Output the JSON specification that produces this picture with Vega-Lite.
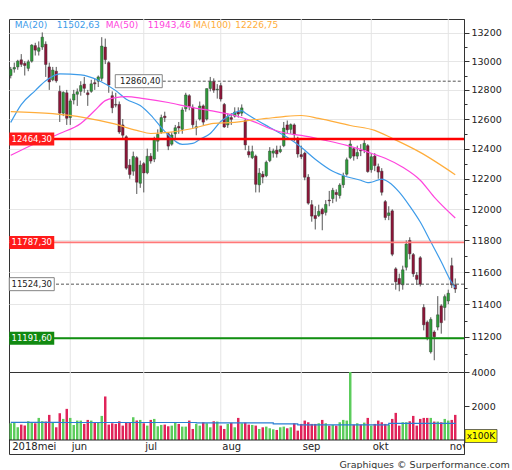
{
  "$schema": "https://vega.github.io/schema/vega-lite/v6.json",
  "padding": {"left": 7, "top": 18, "right": 4, "bottom": 0},
  "background": "white",
  "bounds": "flush",
  "spacing": 0,
  "config": {
    "font": "DejaVu Sans",
    "view": {"stroke": "#333", "strokeWidth": 1},
    "axis": {"labelFont": "DejaVu Sans", "labelFontSize": 9.5, "labelColor": "#222", "domainColor": "#333", "tickColor": "#333", "labelOverlap": false}
  },
  "title": {"text": "Graphiques © Surperformance.com", "orient": "bottom", "anchor": "end", "fontSize": 9.5, "fontWeight": "normal", "font": "DejaVu Sans", "color": "#333", "offset": 5, "dx": 8},
  "datasets": {
    "px": [
      {"d":"2018-05-09","o":12900,"h":12960,"l":12880,"c":12943,"v":985},
      {"d":"2018-05-10","o":12945,"h":12990,"l":12920,"c":12956,"v":1044},
      {"d":"2018-05-11","o":12960,"h":13010,"l":12940,"c":13001,"v":749},
      {"d":"2018-05-14","o":13010,"h":13050,"l":12960,"c":12978,"v":906},
      {"d":"2018-05-15","o":12985,"h":13000,"l":12900,"c":12970,"v":847},
      {"d":"2018-05-16","o":12950,"h":13010,"l":12930,"c":12996,"v":1103},
      {"d":"2018-05-17","o":13000,"h":13120,"l":12990,"c":13114,"v":1044},
      {"d":"2018-05-18","o":13110,"h":13130,"l":13040,"c":13078,"v":985},
      {"d":"2018-05-21","o":13070,"h":13140,"l":13040,"c":13095,"v":1300},
      {"d":"2018-05-22","o":13100,"h":13204,"l":13080,"c":13170,"v":1103},
      {"d":"2018-05-23","o":13120,"h":13140,"l":12890,"c":12977,"v":1084},
      {"d":"2018-05-24","o":12960,"h":12990,"l":12800,"c":12855,"v":1478},
      {"d":"2018-05-25","o":12870,"h":12960,"l":12860,"c":12938,"v":1044},
      {"d":"2018-05-28","o":12930,"h":12960,"l":12850,"c":12863,"v":749},
      {"d":"2018-05-29","o":12790,"h":12830,"l":12580,"c":12640,"v":1576},
      {"d":"2018-05-30","o":12640,"h":12790,"l":12620,"c":12783,"v":1241},
      {"d":"2018-05-31","o":12780,"h":12800,"l":12560,"c":12605,"v":1832},
      {"d":"2018-06-01","o":12610,"h":12740,"l":12560,"c":12724,"v":1300},
      {"d":"2018-06-04","o":12730,"h":12800,"l":12700,"c":12771,"v":887},
      {"d":"2018-06-05","o":12770,"h":12810,"l":12690,"c":12787,"v":1143},
      {"d":"2018-06-06","o":12790,"h":12860,"l":12760,"c":12830,"v":1143},
      {"d":"2018-06-07","o":12840,"h":12890,"l":12780,"c":12811,"v":946},
      {"d":"2018-06-08","o":12780,"h":12800,"l":12690,"c":12767,"v":1182},
      {"d":"2018-06-11","o":12790,"h":12870,"l":12780,"c":12842,"v":1143},
      {"d":"2018-06-12","o":12850,"h":12880,"l":12800,"c":12842,"v":1044},
      {"d":"2018-06-13","o":12860,"h":12900,"l":12820,"c":12890,"v":1044},
      {"d":"2018-06-14","o":12880,"h":13170,"l":12860,"c":13107,"v":1418},
      {"d":"2018-06-15","o":13100,"h":13160,"l":12980,"c":13011,"v":2561},
      {"d":"2018-06-18","o":12990,"h":13000,"l":12780,"c":12834,"v":906},
      {"d":"2018-06-19","o":12760,"h":12790,"l":12640,"c":12677,"v":985},
      {"d":"2018-06-20","o":12700,"h":12780,"l":12680,"c":12695,"v":946},
      {"d":"2018-06-21","o":12700,"h":12720,"l":12500,"c":12512,"v":1103},
      {"d":"2018-06-22","o":12560,"h":12600,"l":12470,"c":12490,"v":847},
      {"d":"2018-06-25","o":12480,"h":12490,"l":12260,"c":12270,"v":1044},
      {"d":"2018-06-26","o":12290,"h":12330,"l":12200,"c":12228,"v":1044},
      {"d":"2018-06-27","o":12250,"h":12380,"l":12220,"c":12348,"v":1340},
      {"d":"2018-06-28","o":12340,"h":12350,"l":12100,"c":12177,"v":1143},
      {"d":"2018-06-29","o":12170,"h":12320,"l":12140,"c":12290,"v":1182},
      {"d":"2018-07-02","o":12300,"h":12310,"l":12110,"c":12238,"v":985},
      {"d":"2018-07-03","o":12240,"h":12400,"l":12230,"c":12349,"v":847},
      {"d":"2018-07-04","o":12350,"h":12370,"l":12300,"c":12317,"v":1182},
      {"d":"2018-07-05","o":12330,"h":12480,"l":12310,"c":12464,"v":1241},
      {"d":"2018-07-06","o":12450,"h":12530,"l":12380,"c":12496,"v":808},
      {"d":"2018-07-09","o":12510,"h":12630,"l":12500,"c":12610,"v":887},
      {"d":"2018-07-10","o":12620,"h":12650,"l":12580,"c":12609,"v":906},
      {"d":"2018-07-11","o":12500,"h":12510,"l":12390,"c":12417,"v":808},
      {"d":"2018-07-12","o":12430,"h":12510,"l":12420,"c":12492,"v":847},
      {"d":"2018-07-13","o":12500,"h":12560,"l":12470,"c":12541,"v":1044},
      {"d":"2018-07-16","o":12550,"h":12580,"l":12500,"c":12539,"v":946},
      {"d":"2018-07-17","o":12530,"h":12680,"l":12500,"c":12662,"v":788},
      {"d":"2018-07-18","o":12670,"h":12780,"l":12650,"c":12765,"v":788},
      {"d":"2018-07-19","o":12760,"h":12770,"l":12660,"c":12686,"v":1143},
      {"d":"2018-07-20","o":12680,"h":12700,"l":12540,"c":12561,"v":650},
      {"d":"2018-07-23","o":12540,"h":12590,"l":12490,"c":12548,"v":946},
      {"d":"2018-07-24","o":12600,"h":12720,"l":12590,"c":12689,"v":847},
      {"d":"2018-07-25","o":12690,"h":12700,"l":12560,"c":12579,"v":1044},
      {"d":"2018-07-26","o":12600,"h":12810,"l":12590,"c":12809,"v":985},
      {"d":"2018-07-27","o":12810,"h":12890,"l":12790,"c":12860,"v":749},
      {"d":"2018-07-30","o":12860,"h":12880,"l":12780,"c":12798,"v":1103},
      {"d":"2018-07-31","o":12800,"h":12840,"l":12740,"c":12805,"v":1084},
      {"d":"2018-08-01","o":12830,"h":12850,"l":12720,"c":12737,"v":847},
      {"d":"2018-08-02","o":12700,"h":12710,"l":12540,"c":12546,"v":650},
      {"d":"2018-08-03","o":12560,"h":12640,"l":12540,"c":12616,"v":946},
      {"d":"2018-08-06","o":12610,"h":12640,"l":12560,"c":12598,"v":1005},
      {"d":"2018-08-07","o":12620,"h":12680,"l":12610,"c":12648,"v":749},
      {"d":"2018-08-08","o":12650,"h":12680,"l":12610,"c":12634,"v":1300},
      {"d":"2018-08-09","o":12640,"h":12700,"l":12620,"c":12676,"v":985},
      {"d":"2018-08-10","o":12590,"h":12600,"l":12390,"c":12425,"v":1024},
      {"d":"2018-08-13","o":12380,"h":12420,"l":12340,"c":12358,"v":906},
      {"d":"2018-08-14","o":12340,"h":12420,"l":12330,"c":12380,"v":887},
      {"d":"2018-08-15","o":12350,"h":12360,"l":12110,"c":12163,"v":847},
      {"d":"2018-08-16","o":12160,"h":12270,"l":12110,"c":12237,"v":650},
      {"d":"2018-08-17","o":12230,"h":12250,"l":12170,"c":12211,"v":749},
      {"d":"2018-08-20","o":12220,"h":12320,"l":12210,"c":12309,"v":788},
      {"d":"2018-08-21","o":12320,"h":12410,"l":12310,"c":12384,"v":690},
      {"d":"2018-08-22","o":12370,"h":12400,"l":12340,"c":12385,"v":630},
      {"d":"2018-08-23","o":12390,"h":12420,"l":12340,"c":12365,"v":591},
      {"d":"2018-08-24","o":12380,"h":12420,"l":12370,"c":12394,"v":749},
      {"d":"2018-08-27","o":12420,"h":12580,"l":12410,"c":12539,"v":788},
      {"d":"2018-08-28","o":12560,"h":12590,"l":12500,"c":12527,"v":690},
      {"d":"2018-08-29","o":12530,"h":12570,"l":12500,"c":12562,"v":749},
      {"d":"2018-08-30","o":12560,"h":12570,"l":12450,"c":12494,"v":985},
      {"d":"2018-08-31","o":12470,"h":12480,"l":12340,"c":12364,"v":552},
      {"d":"2018-09-03","o":12360,"h":12420,"l":12330,"c":12346,"v":946},
      {"d":"2018-09-04","o":12370,"h":12380,"l":12190,"c":12210,"v":1143},
      {"d":"2018-09-05","o":12210,"h":12230,"l":12030,"c":12040,"v":1044},
      {"d":"2018-09-06","o":12030,"h":12060,"l":11920,"c":11956,"v":946},
      {"d":"2018-09-07","o":11960,"h":12020,"l":11870,"c":11940,"v":946},
      {"d":"2018-09-10","o":11960,"h":12030,"l":11950,"c":11987,"v":985},
      {"d":"2018-09-11","o":12000,"h":12010,"l":11865,"c":11970,"v":1182},
      {"d":"2018-09-12","o":11980,"h":12060,"l":11960,"c":12032,"v":985},
      {"d":"2018-09-13","o":12060,"h":12120,"l":12020,"c":12055,"v":847},
      {"d":"2018-09-14","o":12070,"h":12140,"l":12040,"c":12124,"v":887},
      {"d":"2018-09-17","o":12110,"h":12130,"l":12050,"c":12096,"v":847},
      {"d":"2018-09-18","o":12090,"h":12170,"l":12070,"c":12158,"v":1044},
      {"d":"2018-09-19","o":12160,"h":12240,"l":12140,"c":12219,"v":1182},
      {"d":"2018-09-20","o":12230,"h":12340,"l":12220,"c":12326,"v":1143},
      {"d":"2018-09-21","o":12340,"h":12470,"l":12330,"c":12431,"v":4000},
      {"d":"2018-09-24","o":12400,"h":12410,"l":12320,"c":12350,"v":906},
      {"d":"2018-09-25","o":12350,"h":12420,"l":12330,"c":12374,"v":985},
      {"d":"2018-09-26","o":12390,"h":12430,"l":12350,"c":12385,"v":906},
      {"d":"2018-09-27","o":12390,"h":12470,"l":12370,"c":12436,"v":1024},
      {"d":"2018-09-28","o":12420,"h":12430,"l":12240,"c":12247,"v":1300},
      {"d":"2018-10-01","o":12260,"h":12370,"l":12240,"c":12346,"v":847},
      {"d":"2018-10-02","o":12350,"h":12370,"l":12250,"c":12287,"v":946},
      {"d":"2018-10-04","o":12280,"h":12300,"l":12200,"c":12244,"v":1143},
      {"d":"2018-10-05","o":12250,"h":12270,"l":12090,"c":12111,"v":1044},
      {"d":"2018-10-08","o":12050,"h":12060,"l":11930,"c":11947,"v":946},
      {"d":"2018-10-09","o":11960,"h":12020,"l":11930,"c":11977,"v":906},
      {"d":"2018-10-10","o":11990,"h":12000,"l":11700,"c":11712,"v":1241},
      {"d":"2018-10-11","o":11620,"h":11630,"l":11490,"c":11539,"v":1596},
      {"d":"2018-10-12","o":11560,"h":11590,"l":11480,"c":11524,"v":847},
      {"d":"2018-10-15","o":11520,"h":11640,"l":11490,"c":11614,"v":1044},
      {"d":"2018-10-16","o":11630,"h":11800,"l":11610,"c":11777,"v":1044},
      {"d":"2018-10-17","o":11800,"h":11820,"l":11680,"c":11715,"v":1103},
      {"d":"2018-10-18","o":11710,"h":11720,"l":11570,"c":11589,"v":1418},
      {"d":"2018-10-19","o":11580,"h":11600,"l":11520,"c":11554,"v":847},
      {"d":"2018-10-22","o":11690,"h":11700,"l":11510,"c":11524,"v":1241},
      {"d":"2018-10-23","o":11380,"h":11400,"l":11240,"c":11274,"v":1300},
      {"d":"2018-10-24","o":11290,"h":11300,"l":11180,"c":11191,"v":1300},
      {"d":"2018-10-25","o":11110,"h":11320,"l":11100,"c":11307,"v":1300},
      {"d":"2018-10-26","o":11230,"h":11240,"l":11060,"c":11201,"v":1084},
      {"d":"2018-10-29","o":11260,"h":11450,"l":11240,"c":11335,"v":1084},
      {"d":"2018-10-30","o":11390,"h":11400,"l":11220,"c":11287,"v":1044},
      {"d":"2018-10-31","o":11380,"h":11460,"l":11300,"c":11447,"v":1241},
      {"d":"2018-11-01","o":11420,"h":11490,"l":11400,"c":11468,"v":1143},
      {"d":"2018-11-02","o":11640,"h":11690,"l":11500,"c":11519,"v":1182},
      {"d":"2018-11-05","o":11520,"h":11560,"l":11470,"c":11494,"v":1478},
      {"d":"2018-11-06"},
      {"d":"2018-11-07"}
    ],
    "ma": [
      {"d":"2018-05-09","m":"MA20","v":12577},{"d":"2018-05-14","m":"MA20","v":12699},{"d":"2018-05-18","m":"MA20","v":12795},
      {"d":"2018-05-23","m":"MA20","v":12864},{"d":"2018-05-29","m":"MA20","v":12912},{"d":"2018-06-06","m":"MA20","v":12905},
      {"d":"2018-06-13","m":"MA20","v":12867},{"d":"2018-06-20","m":"MA20","v":12795},{"d":"2018-06-25","m":"MA20","v":12736},
      {"d":"2018-06-29","m":"MA20","v":12692},{"d":"2018-07-04","m":"MA20","v":12627},{"d":"2018-07-10","m":"MA20","v":12516},
      {"d":"2018-07-17","m":"MA20","v":12429},{"d":"2018-07-20","m":"MA20","v":12435},{"d":"2018-07-24","m":"MA20","v":12462},
      {"d":"2018-07-27","m":"MA20","v":12502},{"d":"2018-08-01","m":"MA20","v":12583},{"d":"2018-08-06","m":"MA20","v":12631},
      {"d":"2018-08-09","m":"MA20","v":12658},{"d":"2018-08-10","m":"MA20","v":12641},{"d":"2018-08-15","m":"MA20","v":12597},
      {"d":"2018-08-21","m":"MA20","v":12543},{"d":"2018-08-28","m":"MA20","v":12476},{"d":"2018-09-03","m":"MA20","v":12409},
      {"d":"2018-09-07","m":"MA20","v":12329},{"d":"2018-09-14","m":"MA20","v":12249},{"d":"2018-09-20","m":"MA20","v":12213},
      {"d":"2018-09-26","m":"MA20","v":12190},{"d":"2018-09-28","m":"MA20","v":12174},{"d":"2018-10-01","m":"MA20","v":12177},
      {"d":"2018-10-05","m":"MA20","v":12197},{"d":"2018-10-09","m":"MA20","v":12177},{"d":"2018-10-12","m":"MA20","v":12112},
      {"d":"2018-10-17","m":"MA20","v":12021},{"d":"2018-10-22","m":"MA20","v":11918},{"d":"2018-10-25","m":"MA20","v":11791},
      {"d":"2018-10-30","m":"MA20","v":11665},{"d":"2018-11-02","m":"MA20","v":11534},{"d":"2018-11-05","m":"MA20","v":11502.63},
      {"d":"2018-05-09","m":"MA50","v":12355},{"d":"2018-05-18","m":"MA50","v":12435},{"d":"2018-05-29","m":"MA50","v":12502},
      {"d":"2018-06-06","m":"MA50","v":12570},{"d":"2018-06-12","m":"MA50","v":12658},{"d":"2018-06-15","m":"MA50","v":12726},
      {"d":"2018-06-20","m":"MA50","v":12747},{"d":"2018-06-25","m":"MA50","v":12754},{"d":"2018-07-02","m":"MA50","v":12740},
      {"d":"2018-07-11","m":"MA50","v":12713},{"d":"2018-07-20","m":"MA50","v":12678},{"d":"2018-07-27","m":"MA50","v":12658},
      {"d":"2018-08-07","m":"MA50","v":12624},{"d":"2018-08-15","m":"MA50","v":12577},{"d":"2018-08-21","m":"MA50","v":12536},
      {"d":"2018-08-28","m":"MA50","v":12502},{"d":"2018-09-03","m":"MA50","v":12489},{"d":"2018-09-12","m":"MA50","v":12455},
      {"d":"2018-09-20","m":"MA50","v":12422},{"d":"2018-09-25","m":"MA50","v":12402},{"d":"2018-10-01","m":"MA50","v":12369},
      {"d":"2018-10-08","m":"MA50","v":12336},{"d":"2018-10-15","m":"MA50","v":12276},{"d":"2018-10-22","m":"MA50","v":12190},
      {"d":"2018-10-26","m":"MA50","v":12079},{"d":"2018-11-05","m":"MA50","v":11943.46},
      {"d":"2018-05-09","m":"MA100","v":12651},{"d":"2018-05-25","m":"MA100","v":12637},{"d":"2018-06-07","m":"MA100","v":12610},
      {"d":"2018-06-19","m":"MA100","v":12570},{"d":"2018-06-28","m":"MA100","v":12523},{"d":"2018-07-04","m":"MA100","v":12502},
      {"d":"2018-07-11","m":"MA100","v":12509},{"d":"2018-07-20","m":"MA100","v":12536},{"d":"2018-07-30","m":"MA100","v":12570},
      {"d":"2018-08-07","m":"MA100","v":12577},{"d":"2018-08-14","m":"MA100","v":12594},{"d":"2018-08-20","m":"MA100","v":12604},
      {"d":"2018-08-27","m":"MA100","v":12617},{"d":"2018-09-03","m":"MA100","v":12624},{"d":"2018-09-10","m":"MA100","v":12604},
      {"d":"2018-09-21","m":"MA100","v":12556},{"d":"2018-10-02","m":"MA100","v":12523},{"d":"2018-10-10","m":"MA100","v":12469},
      {"d":"2018-10-22","m":"MA100","v":12375},{"d":"2018-11-05","m":"MA100","v":12226.75}
    ],
    "leg": [
      {"d":"2018-05-10","m":"MA20","t":"MA(20)"},
      {"d":"2018-05-28","m":"MA20","t":"11502,63"},
      {"d":"2018-06-15","m":"MA50","t":"MA(50)"},
      {"d":"2018-07-03","m":"MA50","t":"11943,46"},
      {"d":"2018-07-20","m":"MA100","t":"MA(100)"},
      {"d":"2018-08-07","m":"MA100","t":"12226,75"}
    ],
    "lv": [
      {"k":"r","p":12464.3,"t":"12464,30","d":"2018-05-17"},
      {"k":"r2","p":11787.3,"t":"11787,30","d":"2018-05-17"},
      {"k":"d","p":11524.3,"t":"11524,30","d":"2018-05-17"},
      {"k":"g","p":11191.6,"t":"11191,60","d":"2018-05-17"},
      {"k":"d2","p":12860.4,"t":"12860,40","d":"2018-06-29"}
    ],
    "seg": [
      {"d":"2018-07-06","p":12860.4},
      {"d":"2018-11-07","p":12860.4}
    ],
    "mo": [
      {"d":"2018-05-09","t":"2018mei"},
      {"d":"2018-06-01","t":"jun"},
      {"d":"2018-07-02","t":"jul"},
      {"d":"2018-08-01","t":"aug"},
      {"d":"2018-09-03","t":"sep"},
      {"d":"2018-10-01","t":"okt"},
      {"d":"2018-11-01","t":"nov"}
    ],
    "va": [
      {"d":"2018-05-09","v":1040},
      {"d":"2018-05-29","v":1030},
      {"d":"2018-07-23","v":1010},
      {"d":"2018-08-22","v":950},
      {"d":"2018-08-31","v":890},
      {"d":"2018-10-09","v":980},
      {"d":"2018-11-05","v":985}
    ],
    "unit": [
      {"d":"2018-11-07","t":"x100K"}
    ]
  },
  "vconcat": [
    {
      "width": 455,
      "height": 353,
      "layer": [
        {
          "data": {"name": "px"},
          "mark": {"type": "rule", "opacity": 0},
          "encoding": {
            "x": {"field": "d", "type": "ordinal", "scale": {"paddingInner": 0, "paddingOuter": 0}, "axis": null},
            "y": {
              "datum": 12000, "type": "quantitative",
              "scale": {"type": "log", "domain": [10990, 13300], "nice": false},
              "axis": {
                "orient": "right", "title": null, "format": "d",
                "values": [11100,11200,11300,11400,11500,11600,11700,11800,11900,12000,12100,12200,12300,12400,12500,12600,12700,12800,12900,13000,13100,13200],
                "labelExpr": "datum.value % 200 == 0 ? datum.label : ''",
                "tickSize": {"condition": {"test": "datum.value % 200 == 0", "value": 5}, "value": 3},
                "grid": true, "gridColor": "#e6e6e6",
                "gridOpacity": {"condition": {"test": "datum.value % 200 == 0", "value": 1}, "value": 0},
                "labelPadding": 2
              }
            }
          }
        },
        {
          "data": {"name": "mo"},
          "transform": [{"filter": "datum.t != '2018mei'"}],
          "mark": {"type": "rule", "color": "#e4e4e4", "strokeWidth": 1},
          "encoding": {"x": {"field": "d", "type": "ordinal", "axis": null}}
        },
        {
          "data": {"name": "px"},
          "mark": {"type": "rule", "color": "#555", "strokeWidth": 1},
          "encoding": {
            "x": {"field": "d", "type": "ordinal", "axis": null},
            "y": {"field": "l", "type": "quantitative"},
            "y2": {"field": "h"}
          }
        },
        {
          "data": {"name": "px"},
          "mark": {"type": "bar", "width": {"band": 0.75}, "stroke": "#333", "strokeWidth": 0.4},
          "encoding": {
            "x": {"field": "d", "type": "ordinal", "axis": null},
            "y": {"field": "o", "type": "quantitative"},
            "y2": {"field": "c"},
            "color": {"condition": {"test": "datum.c >= datum.o", "value": "#2e9a3a"}, "value": "#8c1538"}
          }
        },
        {
          "data": {"name": "ma"},
          "mark": {"type": "line", "interpolate": "monotone", "strokeWidth": 1.2},
          "encoding": {
            "x": {"field": "d", "type": "ordinal", "axis": null},
            "y": {"field": "v", "type": "quantitative"},
            "color": {"field": "m", "type": "nominal", "legend": null,
              "scale": {"domain": ["MA20", "MA50", "MA100"], "range": ["#3d9be9", "#ff44dd", "#ffad3b"]}}
          }
        },
        {
          "data": {"name": "lv"},
          "transform": [{"filter": "datum.k == 'r'"}],
          "mark": {"type": "rule", "color": "#ff0000", "strokeWidth": 2.5},
          "encoding": {"y": {"field": "p", "type": "quantitative"}}
        },
        {
          "data": {"name": "lv"},
          "transform": [{"filter": "datum.k == 'r2'"}],
          "mark": {"type": "rule", "color": "#ff7878", "strokeWidth": 1.6},
          "encoding": {"y": {"field": "p", "type": "quantitative"}}
        },
        {
          "data": {"name": "lv"},
          "transform": [{"filter": "datum.k == 'g'"}],
          "mark": {"type": "rule", "color": "#119011", "strokeWidth": 2},
          "encoding": {"y": {"field": "p", "type": "quantitative"}}
        },
        {
          "data": {"name": "lv"},
          "transform": [{"filter": "datum.k == 'd'"}],
          "mark": {"type": "rule", "color": "#555", "strokeWidth": 1, "strokeDash": [3, 2]},
          "encoding": {"y": {"field": "p", "type": "quantitative"}}
        },
        {
          "data": {"name": "seg"},
          "mark": {"type": "line", "color": "#555", "strokeWidth": 1, "strokeDash": [3, 2]},
          "encoding": {
            "x": {"field": "d", "type": "ordinal", "axis": null},
            "y": {"field": "p", "type": "quantitative"}
          }
        },
        {
          "data": {"name": "lv"},
          "transform": [{"filter": "datum.k == 'r' || datum.k == 'r2'"}],
          "mark": {"type": "point", "shape": "M-1,-0.289L1,-0.289L1,0.289L-1,0.289Z", "size": 2025, "filled": true, "opacity": 1, "color": "#ff1a1a"},
          "encoding": {
            "x": {"field": "d", "type": "ordinal", "axis": null},
            "y": {"field": "p", "type": "quantitative"}
          }
        },
        {
          "data": {"name": "lv"},
          "transform": [{"filter": "datum.k == 'g'"}],
          "mark": {"type": "point", "shape": "M-1,-0.289L1,-0.289L1,0.289L-1,0.289Z", "size": 2025, "filled": true, "opacity": 1, "color": "#118a11"},
          "encoding": {
            "x": {"field": "d", "type": "ordinal", "axis": null},
            "y": {"field": "p", "type": "quantitative"}
          }
        },
        {
          "data": {"name": "lv"},
          "transform": [{"filter": "datum.k == 'd'"}],
          "mark": {"type": "point", "shape": "M-1,-0.289L1,-0.289L1,0.289L-1,0.289Z", "size": 2025, "filled": false, "opacity": 1, "fill": "#ffffff", "fillOpacity": 1, "stroke": "#666", "strokeWidth": 0.8},
          "encoding": {
            "x": {"field": "d", "type": "ordinal", "axis": null},
            "y": {"field": "p", "type": "quantitative"}
          }
        },
        {
          "data": {"name": "lv"},
          "transform": [{"filter": "datum.k == 'd2'"}],
          "mark": {"type": "point", "shape": "M-1,-0.277L1,-0.277L1,0.277L-1,0.277Z", "size": 2209, "filled": false, "opacity": 1, "fill": "#ffffff", "fillOpacity": 1, "stroke": "#666", "strokeWidth": 0.8, "xOffset": -1.5},
          "encoding": {
            "x": {"field": "d", "type": "ordinal", "axis": null},
            "y": {"field": "p", "type": "quantitative"}
          }
        },
        {
          "data": {"name": "lv"},
          "transform": [{"filter": "datum.k == 'r' || datum.k == 'r2' || datum.k == 'g'"}],
          "mark": {"type": "text", "fontSize": 8.5, "align": "center", "baseline": "middle", "color": "#ffffff"},
          "encoding": {
            "x": {"field": "d", "type": "ordinal", "axis": null},
            "y": {"field": "p", "type": "quantitative"},
            "text": {"field": "t"}
          }
        },
        {
          "data": {"name": "lv"},
          "transform": [{"filter": "datum.k == 'd' || datum.k == 'd2'"}],
          "mark": {"type": "text", "fontSize": 8.5, "align": "center", "baseline": "middle", "color": "#222"},
          "encoding": {
            "x": {"field": "d", "type": "ordinal", "axis": null},
            "y": {"field": "p", "type": "quantitative"},
            "text": {"field": "t"}
          }
        },
        {
          "data": {"name": "leg"},
          "mark": {"type": "text", "fontSize": 9, "align": "left", "baseline": "middle", "dx": 0.5},
          "encoding": {
            "x": {"field": "d", "type": "ordinal", "axis": null},
            "y": {"datum": 13257, "type": "quantitative"},
            "text": {"field": "t"},
            "color": {"field": "m", "type": "nominal", "legend": null}
          }
        }
      ]
    },
    {
      "width": 455,
      "height": 82,
      "layer": [
        {
          "data": {"name": "px"},
          "mark": {"type": "rule", "opacity": 0},
          "encoding": {
            "x": {"field": "d", "type": "ordinal", "scale": {"paddingInner": 0, "paddingOuter": 0}, "axis": null},
            "y": {
              "datum": 0, "type": "quantitative",
              "scale": {"domain": [-823, 4000], "nice": false, "zero": false},
              "axis": {
                "orient": "right", "title": null, "format": "d",
                "values": [2000, 4000], "tickSize": 5, "grid": false, "labelPadding": 2
              }
            }
          }
        },
        {
          "data": {"name": "mo"},
          "transform": [{"filter": "datum.t != '2018mei'"}],
          "mark": {"type": "rule", "color": "#e4e4e4", "strokeWidth": 1},
          "encoding": {
            "x": {"field": "d", "type": "ordinal", "axis": null},
            "y": {"datum": 0, "type": "quantitative"},
            "y2": {"datum": 4000}
          }
        },
        {
          "data": {"name": "px"},
          "mark": {"type": "bar", "width": {"band": 0.7}},
          "encoding": {
            "x": {"field": "d", "type": "ordinal", "axis": null},
            "y": {"field": "v", "type": "quantitative"},
            "y2": {"datum": 0},
            "color": {"condition": {"test": "datum.c >= datum.o", "value": "#5ccc5c"}, "value": "#e0245a"}
          }
        },
        {
          "data": {"name": "va"},
          "mark": {"type": "line", "interpolate": "step-after", "color": "#2a7fd4", "strokeWidth": 1.2},
          "encoding": {
            "x": {"field": "d", "type": "ordinal", "axis": null},
            "y": {"field": "v", "type": "quantitative"}
          }
        },
        {
          "data": {"name": "mo"},
          "transform": [{"filter": "datum.t == 'jun'"}],
          "mark": {"type": "rule", "color": "#222", "strokeWidth": 1},
          "encoding": {"y": {"datum": 0, "type": "quantitative"}}
        },
        {
          "data": {"name": "mo"},
          "mark": {"type": "text", "fontSize": 10, "align": "left", "baseline": "middle", "dx": 1.5, "color": "#222", "clip": true},
          "encoding": {
            "x": {"field": "d", "type": "ordinal", "axis": null},
            "y": {"datum": -412, "type": "quantitative"},
            "text": {"field": "t"}
          }
        },
        {
          "data": {"name": "unit"},
          "mark": {"type": "point", "shape": "M-1,-0.406L1,-0.406L1,0.406L-1,0.406Z", "size": 1024, "filled": false, "opacity": 1, "fill": "#ffff00", "fillOpacity": 1, "stroke": "#444", "strokeWidth": 0.8, "xOffset": 18.75},
          "encoding": {
            "x": {"field": "d", "type": "ordinal", "axis": null},
            "y": {"datum": 235, "type": "quantitative"}
          }
        },
        {
          "data": {"name": "unit"},
          "mark": {"type": "text", "fontSize": 9, "align": "center", "baseline": "middle", "color": "#111", "xOffset": 18.75},
          "encoding": {
            "x": {"field": "d", "type": "ordinal", "axis": null},
            "y": {"datum": 235, "type": "quantitative"},
            "text": {"field": "t"}
          }
        }
      ]
    }
  ]
}
